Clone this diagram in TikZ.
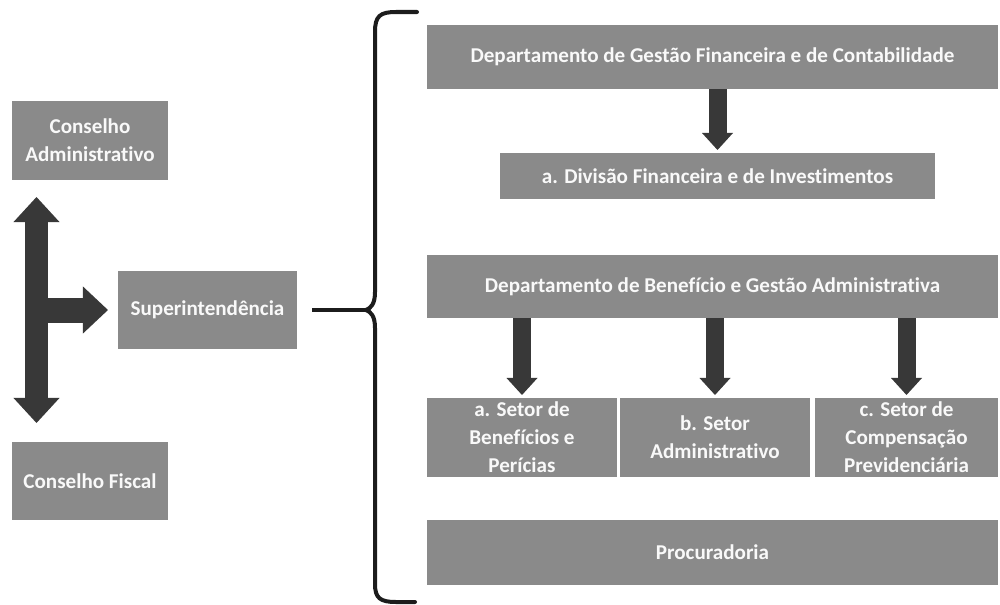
\documentclass[tikz,border=0pt]{standalone}
\usepackage{fontspec}
\setmainfont{Carlito}[Ligatures=NoCommon]
\usetikzlibrary{arrows.meta,positioning}
\definecolor{boxgray}{RGB}{138,138,138}
\definecolor{arrowgray}{RGB}{56,56,56}
\definecolor{bracegray}{RGB}{28,28,28}
\tikzstyle{block}=[fill=boxgray, text=white!95!gray, inner sep=0pt,
                   outer sep=0pt, align=center,
                   font=\fontsize{15}{20}\selectfont\bfseries]
\tikzstyle{link} =[draw=arrowgray, line width=0.45cm, line cap=butt,
                   -{Triangle[width=0.775cm, length=0.425cm, line width=0pt]}]
\tikzstyle{bracepen}=[draw=bracegray, line width=0.1cm, line cap=round,
                   line join=round]

\begin{document}
\begin{tikzpicture}[x=0.025cm, y=-0.025cm]
    \useasboundingbox (0,0) rectangle (1000,605);
    % left column
    \node[block, minimum width=3.9cm, minimum height=1.975cm] (consadm) at (90,140.5) {Conselho\\Administrativo};
    \node[block, minimum width=3.9cm, minimum height=1.95cm] (consfis) at (90,481) {Conselho Fiscal};
    \node[block, minimum width=4.475cm, minimum height=1.95cm] (super) at (207.5,310) {Superintendência};
    \coordinate (spine) at (36.5,310);
    \draw[draw=arrowgray, line width=0.575cm, line cap=butt,
          {Triangle[width=1.15cm, length=0.625cm, line width=0pt]}-{Triangle[width=1.15cm, length=0.625cm, line width=0pt]},
          shorten <=0.425cm, shorten >=0.475cm] (consadm.south -| spine) -- (consfis.north -| spine);
    \draw[draw=arrowgray, line width=0.625cm, line cap=butt,
          -{Triangle[width=1.175cm, length=0.625cm, line width=0pt]},
          shorten >=0.25cm] (spine) -- (super.west);
    % brace
    \coordinate (bracetip) at (366,310);
    \draw[bracepen] (417,12) -- (396,12) .. controls (380,12) and (375,16) .. (375,32)
        -- (375,292) .. controls (375,304) and (371,308) .. (bracetip)
        .. controls (371,312) and (375,316) .. (375,328)
        -- (375,584) .. controls (375,598) and (380,602) .. (396,602) -- (415,602);
    \draw[bracepen, line cap=butt, shorten <=0.375cm] (super.east) -- (bracetip);
    % right column
    \node[block, minimum width=14.275cm, minimum height=1.6cm] (deptfin) at (712.5,57) {Departamento de Gestão Financeira e de Contabilidade};
    \node[block, minimum width=10.875cm, minimum height=1.15cm] (divfin) at (717.5,176) {a. Divisão Financeira e de Investimentos};
    \node[block, minimum width=14.275cm, minimum height=1.575cm] (deptben) at (712.5,286.5) {Departamento de Benefício e Gestão Administrativa};
    \node[block, minimum width=4.75cm, minimum height=1.975cm] (seta) at (522,437.5) {a. Setor de\\Benefícios e\\Perícias};
    \node[block, minimum width=4.75cm, minimum height=1.975cm] (setb) at (715,437.5) {b. Setor\\Administrativo};
    \node[block, minimum width=4.575cm, minimum height=1.975cm] (setc) at (906.5,437.5) {c. Setor de\\Compensação\\Previdenciária};
    \node[block, minimum width=14.275cm, minimum height=1.625cm] (proc) at (712.5,552.5) {Procuradoria};
    \draw[link, shorten >=0.075cm] (deptfin.south -| divfin) -- (divfin.north);
    \foreach \s in {seta,setb,setc}
        \draw[link, shorten >=0.075cm] (deptben.south -| \s) -- (\s.north);
\end{tikzpicture}
\end{document}
